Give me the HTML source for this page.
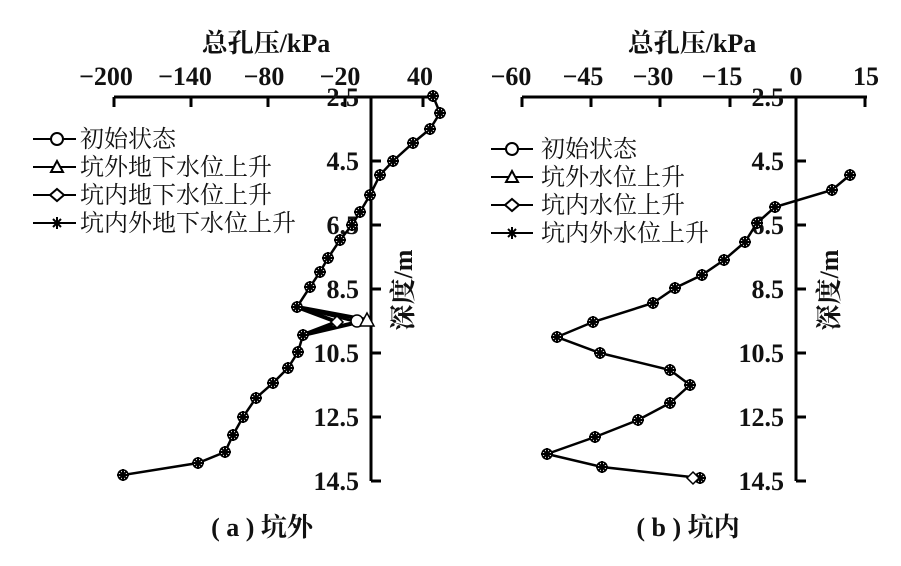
<!DOCTYPE html><html><head><meta charset="utf-8"><style>body{margin:0;background:#fff}svg{display:block}
text{font-family:"Liberation Serif","Noto Serif CJK SC",serif;fill:#111}
.t{font-size:26px;font-weight:bold}.h{font-size:26px;font-weight:bold}.cj{font-size:24px}</style></head><body>
<svg width="901" height="566" viewBox="0 0 901 566" xmlns="http://www.w3.org/2000/svg">
<g stroke="#000" stroke-width="3" fill="none">
<path d="M114 97H435M371 97V481M114 97v10M191 97v10M268 97v10M345 97v10M423 97v10M371 161h10M371 225h10M371 289h10M371 353h10M371 417h10M371 481h10"/>
<path d="M522 97H867M796 97V481M522 97v10M591 97v10M660 97v10M730 97v10M865 97v10M796 161h10M796 225h10M796 289h10M796 353h10M796 417h10M796 481h10"/>
</g>
<g class="h" text-anchor="middle">
<text x="266" y="52">总孔压/kPa</text><text x="692" y="52">总孔压/kPa</text>
</g>
<g class="t" text-anchor="middle">
<text x="106" y="85">−200</text><text x="185" y="85">−140</text><text x="264" y="85">−80</text><text x="340" y="85">−20</text><text x="420" y="85">40</text>
<text x="511" y="85">−60</text><text x="583" y="85">−45</text><text x="653" y="85">−30</text><text x="722" y="85">−15</text><text x="796" y="85">0</text><text x="866" y="85">15</text>
</g>
<g class="t" text-anchor="end">
<text x="359" y="106">2.5</text><text x="359" y="170">4.5</text><text x="359" y="234">6.5</text><text x="359" y="298">8.5</text><text x="359" y="362">10.5</text><text x="359" y="426">12.5</text><text x="359" y="490">14.5</text>
<text x="784" y="106">2.5</text><text x="784" y="170">4.5</text><text x="784" y="234">6.5</text><text x="784" y="298">8.5</text><text x="784" y="362">10.5</text><text x="784" y="426">12.5</text><text x="784" y="490">14.5</text>
</g>
<text class="h" transform="translate(412,290) rotate(-90)" text-anchor="middle">深度/m</text>
<text class="h" transform="translate(838,290) rotate(-90)" text-anchor="middle">深度/m</text>
<text class="h" x="262" y="536" text-anchor="middle">( a ) 坑外</text>
<text class="h" x="688" y="536" text-anchor="middle">( b ) 坑内</text>
<defs>
<g id="m"><circle r="5" fill="#fff" stroke="#000" stroke-width="1.5"/><path d="M-6 0H6M0-6V6M-4-4L4 4M-4 4L4-4" stroke="#000" stroke-width="2"/></g>
</defs>
<g class="cj">
<text x="80" y="147">初始状态</text><text x="80" y="175">坑外地下水位上升</text><text x="80" y="203">坑内地下水位上升</text><text x="80" y="231">坑内外地下水位上升</text>
<text x="541" y="157">初始状态</text><text x="541" y="185">坑外水位上升</text><text x="541" y="213">坑内水位上升</text><text x="541" y="241">坑内外水位上升</text>
</g>
<g stroke="#000" stroke-width="2" fill="#fff">
<path d="M33 139H76M491 149H533M33 167H76M491 177H533M33 195H76M491 205H533M33 223H76M491 233H533"/>
<circle cx="57" cy="139" r="6"/><circle cx="512" cy="149" r="6"/>
<path d="M57 161L63 172H51Z M512 171L518 182H506Z M57 189L64 195L57 201L50 195Z M512 199L519 205L512 211L505 205Z"/>
<path d="M51 223H63M57 217V229M53 219L61 227M53 227L61 219M506 233H518M512 227V239M508 229L516 237M508 237L516 229" stroke-width="2"/>
</g>
<g fill="none" stroke="#000" stroke-width="2.5">
<polyline points="433,96 440,113 430,129 413,143 393,161 380,175 370,195 360,212 352,225 340,240 328,258 320,272 310,287 297,307 357,322 303,335 298,352 288,368 273,383 256,398 243,417 233,435 225,452 198,463 123,475"/>
<path d="M297 307L367 320L303 335M297 307L337 322L303 335" stroke-width="4"/>
<polyline points="850,175 832,190 775,207 757,223 745,242 724,260 702,275 675,288 653,303 593,322 557,337 600,353 670,370 690,385 670,403 638,420 595,437 547,454 602,467 700,478"/>
</g>
<g>
<use href="#m" x="433" y="96"/><use href="#m" x="440" y="113"/><use href="#m" x="430" y="129"/><use href="#m" x="413" y="143"/><use href="#m" x="393" y="161"/><use href="#m" x="380" y="175"/><use href="#m" x="370" y="195"/><use href="#m" x="360" y="212"/><use href="#m" x="352" y="225"/><use href="#m" x="340" y="240"/><use href="#m" x="328" y="258"/><use href="#m" x="320" y="272"/><use href="#m" x="310" y="287"/><use href="#m" x="297" y="307"/><use href="#m" x="303" y="335"/><use href="#m" x="298" y="352"/><use href="#m" x="288" y="368"/><use href="#m" x="273" y="383"/><use href="#m" x="256" y="398"/><use href="#m" x="243" y="417"/><use href="#m" x="233" y="435"/><use href="#m" x="225" y="452"/><use href="#m" x="198" y="463"/><use href="#m" x="123" y="475"/>
<use href="#m" x="850" y="175"/><use href="#m" x="832" y="190"/><use href="#m" x="775" y="207"/><use href="#m" x="757" y="223"/><use href="#m" x="745" y="242"/><use href="#m" x="724" y="260"/><use href="#m" x="702" y="275"/><use href="#m" x="675" y="288"/><use href="#m" x="653" y="303"/><use href="#m" x="593" y="322"/><use href="#m" x="557" y="337"/><use href="#m" x="600" y="353"/><use href="#m" x="670" y="370"/><use href="#m" x="690" y="385"/><use href="#m" x="670" y="403"/><use href="#m" x="638" y="420"/><use href="#m" x="595" y="437"/><use href="#m" x="547" y="454"/><use href="#m" x="602" y="467"/><use href="#m" x="700" y="478"/>
</g>
<g fill="#fff" stroke="#000" stroke-width="1.5">
<path d="M337 316L343 322L337 328L331 322Z"/><circle cx="357" cy="321" r="6"/><path d="M367 313L374 326H360Z"/><path d="M693 472L699 478L693 484L687 478Z"/>
</g>
</svg></body></html>
